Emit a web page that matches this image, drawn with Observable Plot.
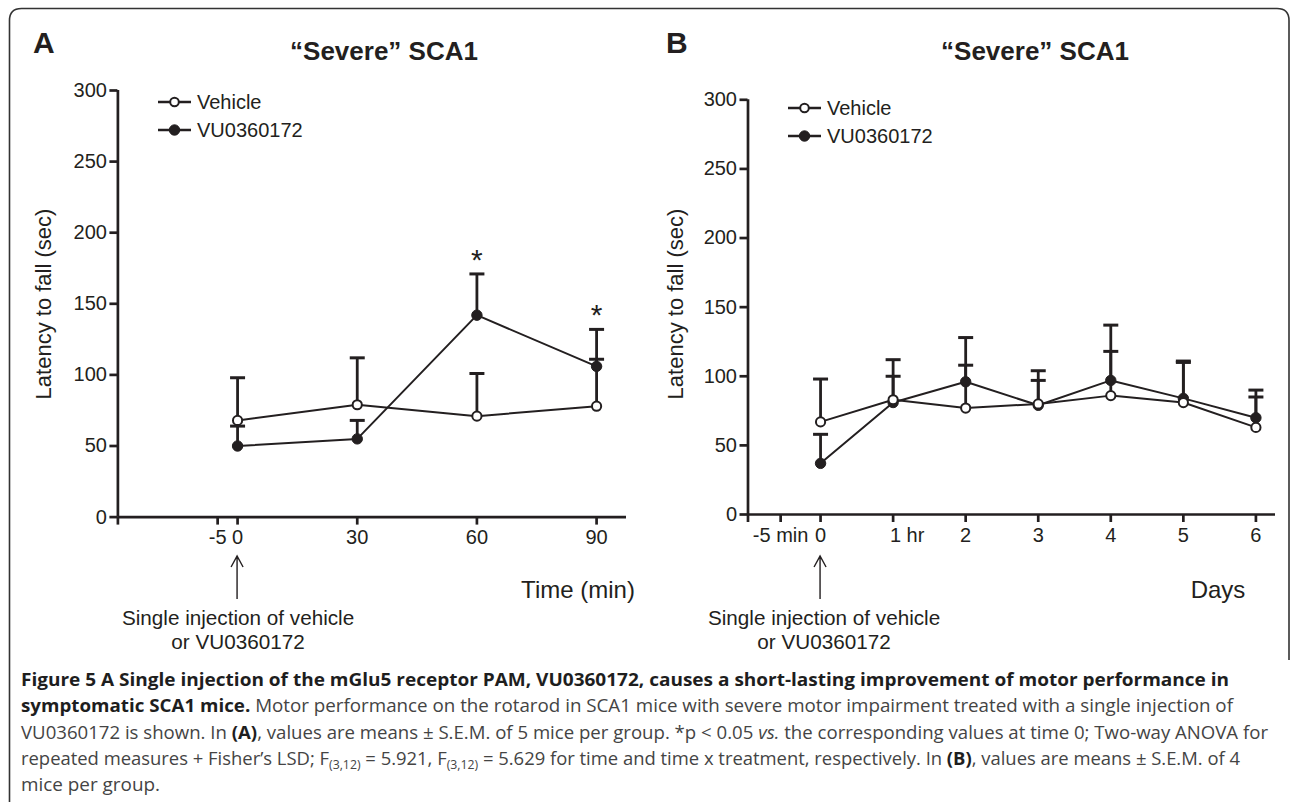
<!DOCTYPE html>
<html><head><meta charset="utf-8">
<script src="https://cdn.jsdelivr.net/npm/d3@7"></script>
<script src="https://cdn.jsdelivr.net/npm/@observablehq/plot@0.6"></script>
<style>
body{margin:0;background:#fff;}
#root{position:relative;width:1292px;height:802px;overflow:hidden;font-family:"Liberation Sans",Arial,sans-serif;color:#231f20;}
.panel{position:absolute;top:0;}
#overlay{position:absolute;left:0;top:0;pointer-events:none;}
</style></head><body><div id="root"></div>
<script>
// ---------- data ----------
const timesA = [0, 30, 60, 90];
const vehicleA = [68, 79, 71, 78];
const vehicleSemA = [30, 33, 30, 33];
const vuA = [50, 55, 142, 106];
const vuSemA = [14, 13, 29, 26];
const sigTimesA = [60, 90];
const xTicksA = [-30, -5, 0, 30, 60, 90];
const xTickLabelsA = ["", "-5", "0", "30", "60", "90"];

const daysB = [0, 1, 2, 3, 4, 5, 6];
const vehicleB = [67, 83, 77, 80, 86, 81, 63];
const vehicleSemB = [31, 17, 31, 17, 32, 29, 22];
const vuB = [37, 81, 96, 79, 97, 84, 70];
const vuSemB = [21, 31, 32, 25, 40, 27, 20];
const xTicksB = [-1, -0.55, 0, 1, 2, 3, 4, 5, 6];
const xTickLabelsB = ["", "-5 min", "0", "", "2", "3", "4", "5", "6"];
const hourTickB = [1];
const hourLabelB = "1 hr";

const yTicks = [0, 50, 100, 150, 200, 250, 300];
const seriesNames = ["Vehicle", "VU0360172"];
const panelTitle = "\u201CSevere\u201D SCA1";
const yLabel = "Latency to fall (sec)";

const ink = "#231f20";
const capSymbol = {draw(ctx, size){ const w = Math.sqrt(size/Math.PI); ctx.moveTo(-w,0); ctx.lineTo(w,0); }};

function panel(cfg){
  const veh = cfg.x.map((x,i)=>({x, m:cfg.veh[i], s:cfg.vehSem[i]}));
  const vu = cfg.x.map((x,i)=>({x, m:cfg.vu[i], s:cfg.vuSem[i]}));
  const both = vu.concat(veh);
  const marks = [
    Plot.ruleX([cfg.domain[0]], {stroke: ink, strokeWidth: 2.7}),
    Plot.ruleY([0], {stroke: ink, strokeWidth: 2.7}),
    Plot.axisY({ticks: yTicks, tickSize: 8, tickPadding: 3, strokeWidth: 2.7, fontSize: 20, label: null}),
    Plot.axisX({ticks: cfg.ticks, tickFormat: d => cfg.labels[cfg.ticks.indexOf(d)], tickSize: 8, tickPadding: 5, strokeWidth: 2.7, fontSize: 20, label: null}),
    ...(cfg.extraAxis || []),
    Plot.line(veh, {x:"x", y:"m", stroke: ink, strokeWidth: 2}),
    Plot.line(vu, {x:"x", y:"m", stroke: ink, strokeWidth: 2}),
    Plot.ruleX(both, {x:"x", y1:"m", y2: d => d.m + d.s, stroke: ink, strokeWidth: 2.8}),
    Plot.dot(both, {x:"x", y: d => d.m + d.s, symbol: capSymbol, r: 7.5, fill: "none", stroke: ink, strokeWidth: 3}),
    Plot.dot(vu, {x:"x", y:"m", r: 5.2, fill: ink, stroke: ink, strokeWidth: 1}),
    Plot.dot(veh, {x:"x", y:"m", r: 4.6, fill: "white", stroke: ink, strokeWidth: 2}),
  ];
  if (cfg.sig) {
    const sigRows = vu.filter(d => cfg.sig.includes(d.x));
    marks.push(Plot.text(sigRows, {x:"x", y: d => d.m + d.s, text: () => "*", fontSize: 30, lineAnchor: "bottom", dy: -4, fill: ink}));
  }
  return Plot.plot({
    width: cfg.width, height: 680,
    marginLeft: cfg.ml, marginRight: cfg.mr, marginTop: cfg.mt, marginBottom: cfg.mb,
    x: {domain: cfg.domain}, y: {domain: [0, 300]},
    style: {fontFamily: '"Liberation Sans", Arial, sans-serif', color: ink, background: "transparent", overflow: "visible"},
    marks
  });
}

const root = document.getElementById("root");
const pA = panel({x: timesA, veh: vehicleA, vehSem: vehicleSemA, vu: vuA, vuSem: vuSemA, sig: sigTimesA,
  ticks: xTicksA, labels: xTickLabelsA, domain: [-30, 97.5], width: 646, ml: 117.4, mr: 20, mt: 90, mb: 163.4});
const pB = panel({x: daysB, veh: vehicleB, vehSem: vehicleSemB, vu: vuB, vuSem: vuSemB,
  ticks: xTicksB, labels: xTickLabelsB, domain: [-1, 6.27], width: 652, ml: 107.5, mr: 17, mt: 99.3, mb: 166,
  extraAxis: [Plot.axisX({ticks: hourTickB, tickFormat: () => hourLabelB, tickSize: 0, tickPadding: 13, dx: 14, fontSize: 20, label: null})]});
const dA = document.createElement("div"); dA.className = "panel"; dA.style.left = "0px"; dA.appendChild(pA); root.appendChild(dA);
const dB = document.createElement("div"); dB.className = "panel"; dB.style.left = "640px"; dB.appendChild(pB); root.appendChild(dB);

const xA0 = pA.scale("x").apply(0);
const xB0 = 640 + pB.scale("x").apply(0);

// ---------- overlay: frame, titles, legends, annotations, caption ----------
const NS = "http://www.w3.org/2000/svg";
const ov = document.createElementNS(NS, "svg");
ov.setAttribute("id", "overlay"); ov.setAttribute("width", 1292); ov.setAttribute("height", 802);
root.appendChild(ov);
function el(tag, attrs, text){ const e = document.createElementNS(NS, tag); for (const k in attrs) e.setAttribute(k, attrs[k]); if (text != null) e.textContent = text; ov.appendChild(e); return e; }
const ff = '"Liberation Sans", Arial, sans-serif';

el("path", {d: "M9.5,900 V20.5 Q9.5,8.5 21.5,8.5 H1277 Q1289,8.5 1289,20.5 V660", fill: "none", stroke: "#333", "stroke-width": 1.6});

function panelDecor(o){
  el("text", {x: o.letterX, y: 53, "font-family": ff, "font-size": 30, "font-weight": "bold", fill: ink}, o.letter);
  el("text", {x: o.titleX, y: 60, "font-family": ff, "font-size": 26, "font-weight": "bold", fill: ink, "text-anchor": "middle"}, panelTitle);
  el("text", {x: o.ylabX, y: 304, "font-family": ff, "font-size": 22, fill: ink, "text-anchor": "middle", "dominant-baseline": "central", transform: `rotate(-90 ${o.ylabX} 304)`}, yLabel);
  seriesNames.forEach((name, i) => {
    const y = o.legY + i * 28;
    el("line", {x1: o.legX, x2: o.legX + 33, y1: y, y2: y, stroke: ink, "stroke-width": 2.6});
    el("circle", {cx: o.legX + 16.5, cy: y, r: i === 0 ? 4.3 : 5.2, fill: i === 0 ? "white" : ink, stroke: ink, "stroke-width": i === 0 ? 2 : 1});
    el("text", {x: o.legX + 39, y: y, "font-family": ff, "font-size": 20, fill: ink, "dominant-baseline": "central"}, name);
  });
  el("text", {x: o.xtX, y: 598, "font-family": ff, "font-size": 24, fill: ink, "text-anchor": "middle"}, o.xTitle);
  const ax = o.arrowX;
  el("path", {d: `M${ax},599 V556 M${ax-6},567 L${ax},556 L${ax+6},567`, fill: "none", stroke: ink, "stroke-width": 1.4});
  el("text", {x: ax + o.textDx, y: 625, "font-family": ff, "font-size": 20.7, fill: ink, "text-anchor": "middle"}, "Single injection of vehicle");
  el("text", {x: ax + o.textDx, y: 649, "font-family": ff, "font-size": 20.7, fill: ink, "text-anchor": "middle"}, "or VU0360172");
}
panelDecor({letter: "A", letterX: 33, titleX: 384, ylabX: 43.5, legX: 158, legY: 102, xtX: 578, xTitle: "Time (min)", arrowX: xA0, textDx: 1});
panelDecor({letter: "B", letterX: 666, titleX: 1035, ylabX: 675, legX: 788, legY: 108, xtX: 1218, xTitle: "Days", arrowX: xB0, textDx: 4});

// caption
const capFF = '"Open Sans", "Liberation Sans", sans-serif';
const capLines = [
  {w: 1208, parts: [["b", "Figure 5 A Single injection of the mGlu5 receptor PAM, VU0360172, causes a short-lasting improvement of motor performance in"]]},
  {w: 1212, parts: [["b", "symptomatic SCA1 mice."], ["n", " Motor performance on the rotarod in SCA1 mice with severe motor impairment treated with a single injection of"]]},
  {w: 1247, parts: [["n", "VU0360172 is shown. In "], ["b", "(A)"], ["n", ", values are means \u00B1 S.E.M. of 5 mice per group. *p < 0.05 "], ["i", "vs."], ["n", " the corresponding values at time 0; Two-way ANOVA for"]]},
  {w: 1219, parts: [["n", "repeated measures + Fisher\u2019s LSD; F"], ["s", "(3,12)"], ["n", " = 5.921, F"], ["s", "(3,12)"], ["n", " = 5.629 for time and time x treatment, respectively. In "], ["b", "(B)"], ["n", ", values are means \u00B1 S.E.M. of 4"]]},
  {w: 139, parts: [["n", "mice per group."]]}
];
capLines.forEach((ln, i) => {
  const t = el("text", {x: 21, y: 686 + i * 26.3, "font-family": capFF, "font-size": 18, fill: "#444", textLength: ln.w, lengthAdjust: "spacingAndGlyphs"});
  let sub = false;
  ln.parts.forEach(([k, s]) => {
    const ts = document.createElementNS(NS, "tspan");
    ts.textContent = s;
    if (k === "b") { ts.setAttribute("font-weight", "bold"); ts.setAttribute("fill", "#1e1e1e"); }
    if (k === "i") ts.setAttribute("font-style", "italic");
    if (k === "s") { ts.setAttribute("font-size", 12); ts.setAttribute("dy", 4); sub = true; }
    else if (sub) { ts.setAttribute("dy", -4); sub = false; }
    t.appendChild(ts);
  });
});
</script></body></html>
